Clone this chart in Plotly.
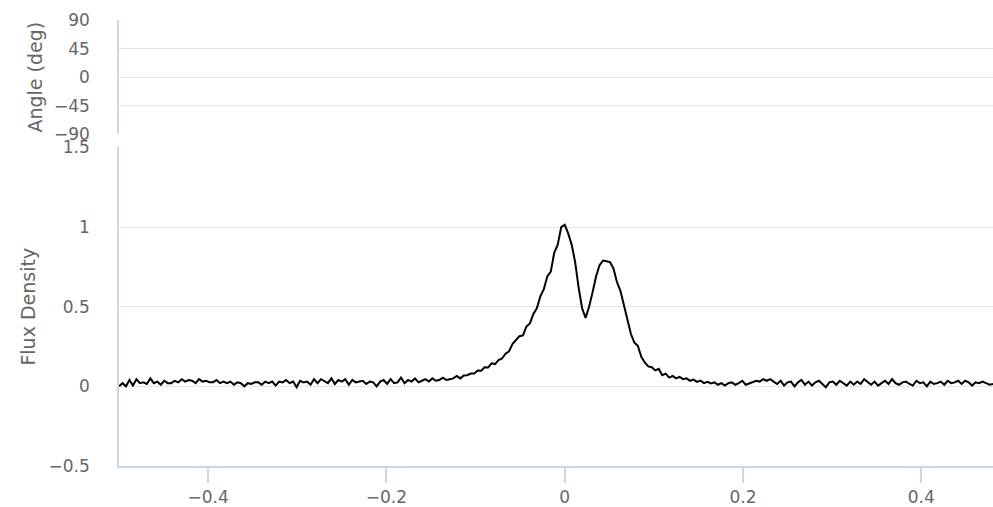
import numpy as np
import plotly.graph_objects as go

# Pulse profile: flux density per phase bin (256 bins per turn, starting at phase -0.5)
BINS_PER_TURN = 256
FIRST_BIN = -128

flux = [
    # off-pulse baseline, phase -0.5 .. -0.13
    0.0, 0.02, 0.0, 0.04, 0.005, 0.045, 0.02, 0.025, 0.015, 0.05, 0.02, 0.03, 0.01, 0.035, 0.02, 0.02,
    0.035, 0.025, 0.045, 0.03, 0.04, 0.035, 0.02, 0.045, 0.03, 0.035, 0.025, 0.025, 0.04, 0.02, 0.03, 0.02,
    0.03, 0.01, 0.025, 0.02, 0.0, 0.02, 0.015, 0.025, 0.025, 0.01, 0.03, 0.02, 0.03, 0.005, 0.03, 0.025,
    0.04, 0.02, 0.03, -0.005, 0.035, 0.025, 0.03, 0.01, 0.045, 0.02, 0.045, 0.035, 0.02, 0.05, 0.015, 0.04,
    0.03, 0.045, 0.01, 0.04, 0.025, 0.03, 0.035, 0.015, 0.03, 0.025, 0.0, 0.03, 0.04, 0.015, 0.045, 0.02,
    0.025, 0.055, 0.02, 0.04, 0.03, 0.05, 0.025, 0.035, 0.045, 0.03, 0.05, 0.035, 0.04, 0.055, 0.04, 0.045,
    # leading wing
    0.05, 0.065, 0.05, 0.068, 0.07, 0.08, 0.08, 0.1, 0.098, 0.12, 0.118, 0.145, 0.14, 0.165, 0.175, 0.205,
    0.22, 0.265, 0.29, 0.315, 0.32, 0.375, 0.395, 0.455, 0.49, 0.565, 0.61, 0.69, 0.72, 0.84, 0.89, 1.0,
    # main component and trailing component
    1.015, 0.96, 0.89, 0.78, 0.62, 0.49, 0.43, 0.5, 0.59, 0.69, 0.76, 0.79, 0.785, 0.78, 0.74, 0.655,
    0.6, 0.51, 0.42, 0.33, 0.275, 0.255, 0.185, 0.15, 0.125, 0.12, 0.1, 0.11, 0.07, 0.08, 0.055, 0.065,
    0.05, 0.06, 0.045, 0.05, 0.035, 0.042, 0.028, 0.036, 0.02, 0.028, 0.018,
    # off-pulse baseline, phase 0.17 .. 0.48
    0.025, 0.01, 0.02, 0.005, 0.02, 0.025, 0.01, 0.02, 0.035, 0.01, 0.02, 0.025, 0.035, 0.03, 0.045, 0.035,
    0.045, 0.03, 0.015, 0.035, 0.005, 0.025, 0.03, 0.0, 0.025, 0.04, 0.01, 0.03, 0.005, 0.025, 0.035, 0.015,
    -0.005, 0.025, 0.03, 0.01, 0.035, 0.02, 0.005, 0.03, 0.01, 0.03, 0.015, 0.045, 0.025, 0.01, 0.03, 0.005,
    0.02, 0.035, 0.015, 0.045, 0.02, 0.01, 0.025, 0.03, 0.015, 0.005, 0.035, 0.02, 0.025, 0.0, 0.03, 0.015,
    0.02, 0.03, 0.01, 0.035, 0.02, 0.025, 0.035, 0.015, 0.035, 0.025, 0.005, 0.025, 0.02, 0.03, 0.02, 0.01,
    0.015,
]

# Polarisation position angle (no measurements in this profile)
angle_phase = []
angle_deg = []

angle_ticks = [-90, -45, 0, 45, 90]
flux_ticks = [-0.5, 0, 0.5, 1, 1.5]
phase_ticks = [-0.4, -0.2, 0, 0.2, 0.4]

phase = (np.arange(len(flux)) + FIRST_BIN) / BINS_PER_TURN

FONT = "DejaVu Sans"
TEXT = "#666666"
AXIS = "#ccd6eb"
GRID = "#e6e6e6"

fig = go.Figure()
fig.add_trace(go.Scatter(
    x=phase, y=flux, mode="lines",
    line=dict(color="#000000", width=2),
    xaxis="x", yaxis="y", showlegend=False,
))
fig.add_trace(go.Scatter(
    x=angle_phase, y=angle_deg, mode="markers",
    marker=dict(color="#000000", size=4),
    xaxis="x2", yaxis="y2", showlegend=False,
))

fig.update_layout(
    width=993, height=507,
    margin=dict(l=119, r=0, t=20, b=39),
    paper_bgcolor="white", plot_bgcolor="white",
    font=dict(family=FONT, color=TEXT),
    xaxis=dict(
        domain=[0, 1], anchor="y",
        range=[phase[0], phase[-1]],
        tickvals=phase_ticks,
        showgrid=False, zeroline=False,
        showline=True, linecolor=AXIS, linewidth=1.5,
        ticks="outside", ticklen=15, tickwidth=1.5, tickcolor=AXIS,
        tickfont=dict(size=17, color=TEXT),
    ),
    yaxis=dict(
        domain=[0, 0.7143], anchor="x",
        range=[-0.5, 1.5],
        tickvals=flux_ticks,
        showgrid=True, gridcolor=GRID, gridwidth=1.2, zeroline=False,
        showline=True, linecolor=AXIS, linewidth=1.5,
        ticks="", ticklabelstandoff=24,
        tickfont=dict(size=17, color=TEXT),
        title=dict(text="Flux Density", font=dict(size=19, color=TEXT), standoff=8),
    ),
    xaxis2=dict(
        domain=[0, 1], anchor="y2", matches="x",
        showticklabels=False, ticks="", showgrid=False, zeroline=False,
        showline=True, linecolor="rgba(0,0,0,0)",
    ),
    yaxis2=dict(
        domain=[0.7433, 1], anchor="x2",
        range=[-90, 90],
        tickvals=angle_ticks,
        showgrid=True, gridcolor=GRID, gridwidth=1.2, zeroline=False,
        showline=True, linecolor=AXIS, linewidth=1.5,
        ticks="", ticklabelstandoff=24,
        tickfont=dict(size=17, color=TEXT),
        title=dict(text="Angle (deg)", font=dict(size=19, color=TEXT), standoff=6),
    ),
)

fig.write_html("out.html")
